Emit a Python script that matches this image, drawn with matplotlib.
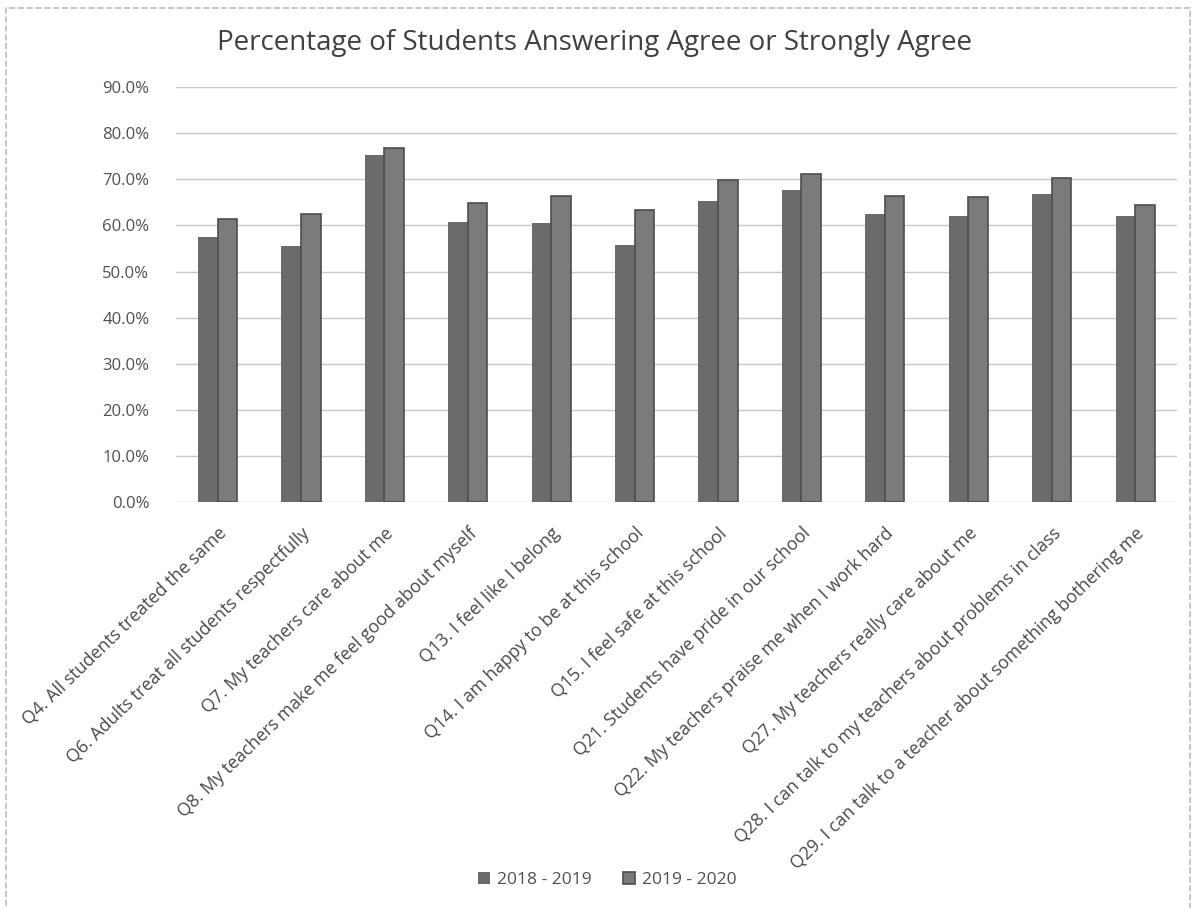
import matplotlib.pyplot as plt
import numpy as np
from matplotlib.patches import Rectangle
from matplotlib.ticker import PercentFormatter

plt.rcParams['font.family'] = ['Open Sans', 'DejaVu Sans']

# Survey items and share of students answering agree / strongly agree
questions = [
    'Q4. All students treated the same',
    'Q6. Adults treat all students respectfully',
    'Q7. My teachers care about me',
    'Q8. My teachers make me feel good about myself',
    'Q13. I feel like I belong',
    'Q14. I am happy to be at this school',
    'Q15. I feel safe at this school',
    'Q21. Students have pride in our school',
    'Q22. My teachers praise me when I work hard',
    'Q27. My teachers really care about me',
    'Q28. I can talk to my teachers about problems in class',
    'Q29. I can talk to a teacher about something bothering me',
]
year_2018_2019 = [57.6, 55.6, 75.3, 60.8, 60.5, 55.8, 65.4, 67.7, 62.4, 62.0, 66.9, 62.0]
year_2019_2020 = [61.5, 62.5, 76.9, 64.8, 66.5, 63.4, 69.8, 71.1, 66.5, 66.1, 70.4, 64.5]
series_labels = ['2018 - 2019', '2019 - 2020']

fig = plt.figure(figsize=(11.96, 9.08), dpi=100)
ax = fig.add_axes([0.147, 0.447, 0.837, 0.457])

x = np.arange(len(questions))
w = 0.235
ax.bar(x - w / 2, year_2018_2019, width=w, color='#6b6b6b', label=series_labels[0], zorder=3)
ax.bar(x + w / 2, year_2019_2020, width=w, color='#7b7b7b', edgecolor='#4e4e4e',
       linewidth=1.2, label=series_labels[1], zorder=3)

ax.set_xlim(-0.5, len(questions) - 0.5)
ax.set_ylim(0, 90)
ax.set_yticks(np.arange(0, 91, 10))
ax.yaxis.set_major_formatter(PercentFormatter(decimals=1))
ax.grid(axis='y', color='#c8c8c8', linewidth=1.0, zorder=0)
for s in ax.spines.values():
    s.set_visible(False)
ax.tick_params(axis='both', length=0, colors='#505050', labelsize=12)
ax.tick_params(axis='y', pad=19)

ax.set_xticks(x)
ax.set_xticklabels(questions, rotation=44, ha='right', rotation_mode='anchor',
                   fontsize=12.8, color='#4a4a4a')
ax.tick_params(axis='x', pad=16)

fig.text(0.497, 0.953, 'Percentage of Students Answering Agree or Strongly Agree',
         ha='center', va='center', fontsize=20, color='#404040')

fig.legend(loc='center', bbox_to_anchor=(0.508, 0.031), ncol=2, frameon=False,
           fontsize=12.5, labelcolor='#505050', handlelength=0.7, handleheight=0.7,
           handletextpad=0.4, columnspacing=1.8)

# light chart border
fig.patches.append(Rectangle((0.005, -0.02), 0.99, 1.011, transform=fig.transFigure,
                             fill=False, edgecolor='#bdbdbd', linewidth=1.2, linestyle='--'))

fig.savefig('out.png', dpi=100)
